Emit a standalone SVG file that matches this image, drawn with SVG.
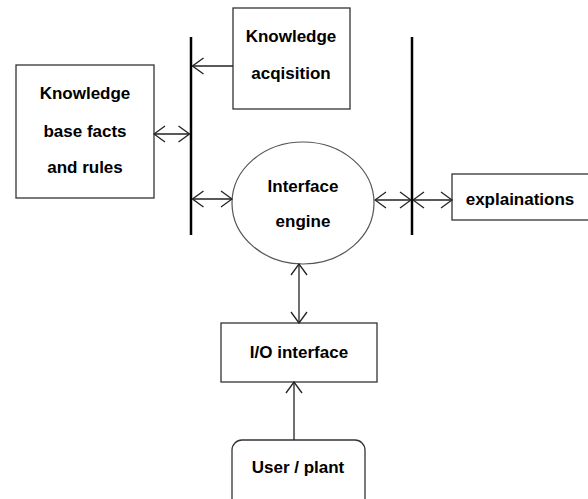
<svg xmlns="http://www.w3.org/2000/svg" width="588" height="499" viewBox="0 0 588 499">
<style>
.box{fill:#fff;stroke:#333;stroke-width:1.3}
.bar{stroke:#000;stroke-width:2.5}
.con{stroke:#222;stroke-width:1.3;fill:none}
text{font-family:"Liberation Sans",Arial,sans-serif;font-weight:bold;font-size:17px;fill:#000;text-anchor:middle}
</style>
<defs>
<marker id="ah" viewBox="-12 -9 13 18" refX="0" refY="0" markerWidth="13" markerHeight="18" markerUnits="userSpaceOnUse" orient="auto-start-reverse">
<path d="M-11,-8 L0,0 L-11,8" fill="none" stroke="#222" stroke-width="1.3"/>
</marker>
</defs>
<rect width="588" height="499" fill="#fff"/>
<g id="kb">
<rect class="box" x="16" y="65" width="138" height="133"/>
<text x="85" y="99">Knowledge</text>
<text x="85" y="137">base facts</text>
<text x="85" y="173">and rules</text>
</g>
<g id="ka">
<rect class="box" x="233" y="8" width="117" height="101"/>
<text x="291" y="42">Knowledge</text>
<text x="291" y="79">acqisition</text>
</g>
<g id="bar-left"><line class="bar" x1="191" y1="37" x2="191" y2="235"/></g>
<g id="bar-right"><line class="bar" x1="412" y1="37" x2="412" y2="235"/></g>
<g id="engine">
<ellipse cx="303" cy="203" rx="71" ry="61" fill="#fff" stroke="#555" stroke-width="1.2"/>
<text x="303" y="192">Interface</text>
<text x="303" y="227">engine</text>
</g>
<g id="expl">
<rect class="box" x="452" y="174" width="140" height="46"/>
<text x="520" y="205">explainations</text>
</g>
<g id="io">
<rect class="box" x="221" y="323" width="156" height="59"/>
<text x="299" y="358">I/O interface</text>
</g>
<g id="user">
<rect class="box" x="232" y="440" width="133" height="75" rx="10"/>
<text x="298" y="473">User / plant</text>
</g>
<g id="connectors">
<line class="con" x1="233" y1="66" x2="192.5" y2="66" marker-end="url(#ah)"/>
<line class="con" x1="154" y1="134" x2="189.5" y2="134" marker-start="url(#ah)" marker-end="url(#ah)"/>
<line class="con" x1="192.5" y1="199" x2="232" y2="199" marker-start="url(#ah)" marker-end="url(#ah)"/>
<line class="con" x1="375" y1="200" x2="411" y2="200" marker-start="url(#ah)" marker-end="url(#ah)"/>
<line class="con" x1="413" y1="200" x2="452" y2="200" marker-start="url(#ah)" marker-end="url(#ah)"/>
<line class="con" x1="299" y1="264" x2="299" y2="323" marker-start="url(#ah)" marker-end="url(#ah)"/>
<line class="con" x1="294" y1="440" x2="294" y2="382" marker-end="url(#ah)"/>
</g>
</svg>
